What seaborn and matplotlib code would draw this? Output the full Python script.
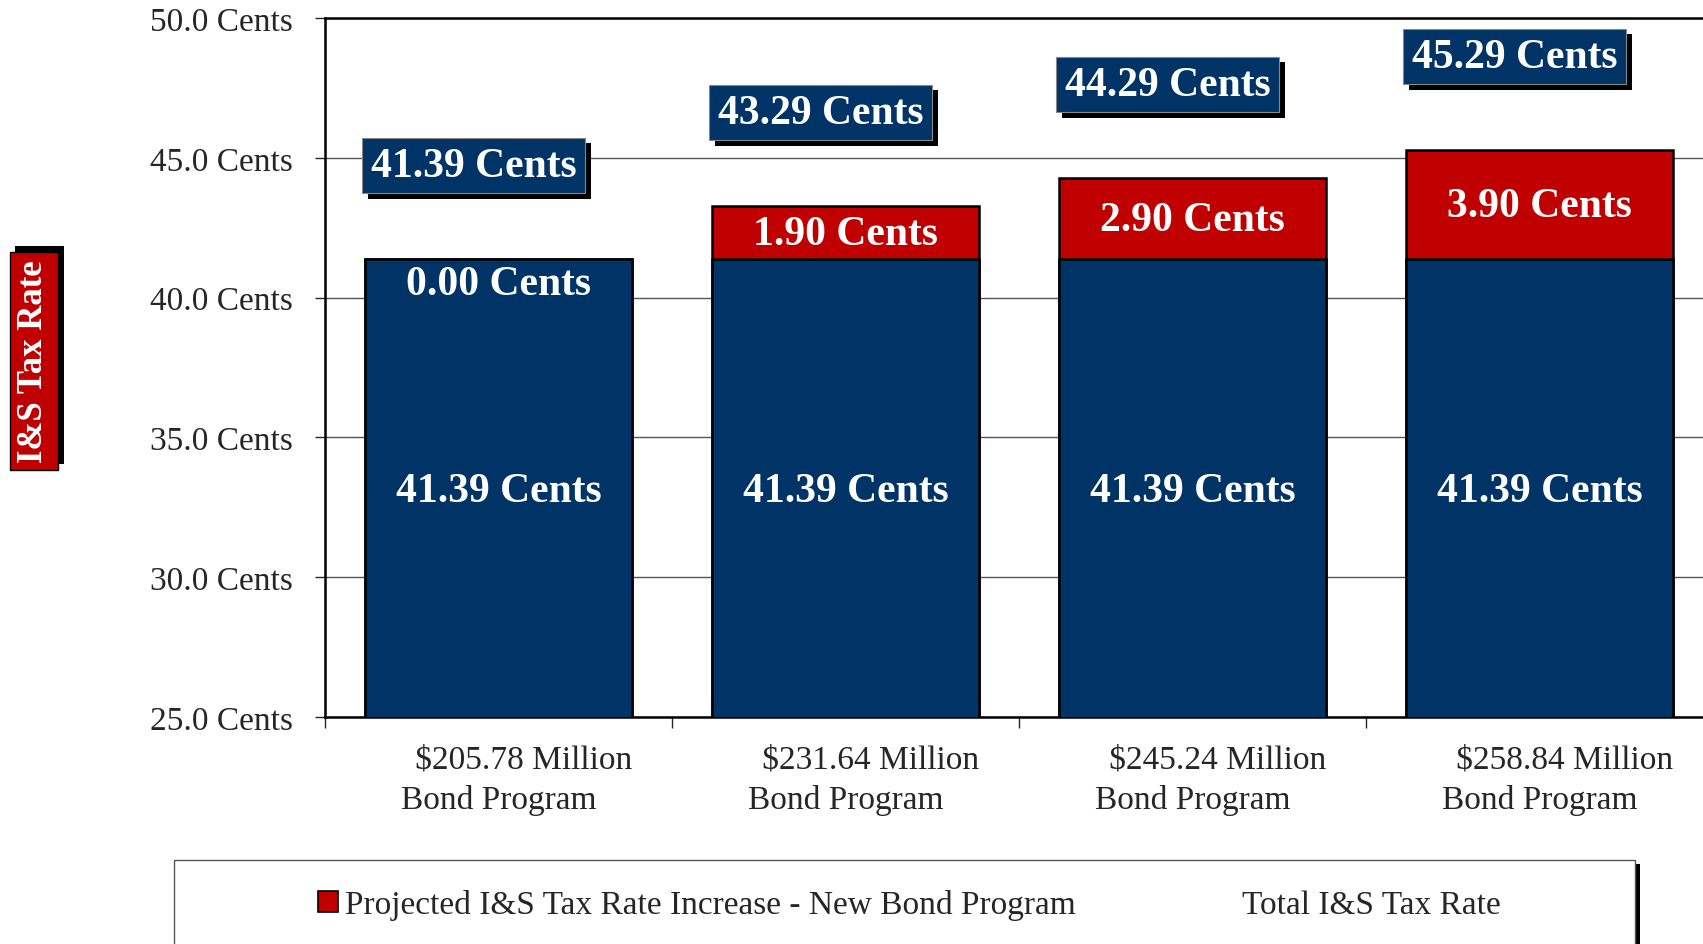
import numpy as np
import pandas as pd
import matplotlib
matplotlib.use("Agg")
import matplotlib.pyplot as plt
import matplotlib.patheffects as pe
from matplotlib.patches import Patch, Rectangle
import seaborn as sns

# ---- data ----
programs = ["$205.78 Million", "$231.64 Million", "$245.24 Million", "$258.84 Million"]
base_rate = [41.39, 41.39, 41.39, 41.39]
increase = [0.00, 1.90, 2.90, 3.90]
total_rate = [41.39, 43.29, 44.29, 45.29]
y_ticks = [25.0, 30.0, 35.0, 40.0, 45.0, 50.0]
legend_labels = ["Projected I&S Tax Rate Increase - New Bond Program", "Total I&S Tax Rate"]

BLUE = "#003366"
RED = "#C00000"

df = pd.DataFrame({
    "program": ["      " + p + "\nBond Program" for p in programs],
    "base": base_rate,
    "increase": increase,
    "total": total_rate,
})

sns.set_style("white")
plt.rcParams["font.family"] = ["Liberation Serif", "DejaVu Serif"]

fig = plt.figure(figsize=(17.03, 9.45), dpi=100)
ax = fig.add_axes([0.191, 0.240, 0.815, 0.740])

# stacked bars: red total first, blue base drawn on top
sns.barplot(data=df, x="program", y="total", color=RED, saturation=1, width=0.77,
            edgecolor="black", linewidth=1.8, ax=ax, zorder=3)
sns.barplot(data=df, x="program", y="base", color=BLUE, saturation=1, width=0.77,
            edgecolor="black", linewidth=1.8, ax=ax, zorder=4)

ax.set_ylim(25, 50)
ax.set_xlim(-0.5, len(programs) - 0.5)
ax.set_yticks(y_ticks)
ax.set_yticklabels([f"{v:.1f} Cents" for v in y_ticks])
ax.yaxis.grid(True, color="#555555", linewidth=1.0, zorder=0)
ax.set_axisbelow(True)

# category labels on minor ticks, boundary ticks as major
ax.set_xticks(np.arange(len(programs) + 1) - 0.5)
ax.set_xticklabels([])
ax.set_xticks(np.arange(len(programs)), minor=True)
ax.set_xticklabels(df["program"], minor=True, linespacing=1.4)
ax.tick_params(axis="x", which="minor", length=0, pad=19, labelsize=24)
ax.tick_params(axis="x", which="major", direction="out", length=8, width=1.0, bottom=True)
ax.tick_params(axis="y", direction="out", length=7, width=1.0, left=True, pad=16, labelsize=24)
ax.set_xlabel("")

for side in ["left", "top", "bottom", "right"]:
    ax.spines[side].set_visible(True)
    ax.spines[side].set_color("black")
ax.spines["left"].set_linewidth(1.8)
ax.spines["top"].set_linewidth(1.8)
ax.spines["bottom"].set_linewidth(1.8)

# labels inside bars
for i in range(len(programs)):
    ax.text(i, (25 + base_rate[i]) / 2 - 0.1, f"{base_rate[i]:.2f} Cents", ha="center", va="center",
            color="white", fontsize=30, fontweight="bold", zorder=6)
    y_inc = base_rate[i] + increase[i] / 2 if increase[i] > 0 else base_rate[i] - 0.85
    ax.text(i, y_inc - 0.05, f"{increase[i]:.2f} Cents", ha="center", va="center",
            color="white", fontsize=30, fontweight="bold", zorder=6)

# total labels in shadowed boxes
shadow = [pe.SimplePatchShadow(offset=(4, -4), shadow_rgbFace="black", alpha=1), pe.Normal()]
for i in range(len(programs)):
    t = ax.annotate(f"{total_rate[i]:.2f} Cents", xy=(i, total_rate[i]), xytext=(-18, 67),
                    textcoords="offset points", ha="center", va="center", color="white",
                    fontsize=30, fontweight="bold", zorder=7,
                    bbox=dict(boxstyle="square,pad=0.21", facecolor=BLUE, edgecolor="#888888",
                              linewidth=0.8))
    t.get_bbox_patch().set_path_effects(shadow)

# y label in a red box
yl = ax.set_ylabel("I&S Tax Rate", fontsize=25, fontweight="bold", color="white",
                   bbox=dict(boxstyle="square,pad=0.22", facecolor=RED, edgecolor="black",
                             linewidth=1.0))
ax.yaxis.set_label_coords(-0.198, 0.51)
yl.get_bbox_patch().set_path_effects(
    [pe.SimplePatchShadow(offset=(4, 4), shadow_rgbFace="black", alpha=1), pe.Normal()])

# legend frame (runs off the bottom of the figure)
frame = Rectangle((0.102, -0.05), 0.858, 0.139, transform=fig.transFigure, facecolor="white",
                  edgecolor="#555555", linewidth=1.0, zorder=1)
frame.set_path_effects([pe.SimplePatchShadow(offset=(4, -3), shadow_rgbFace="black", alpha=1),
                        pe.Normal()])
fig.patches.append(frame)

handles = [Patch(facecolor=RED, edgecolor="black", linewidth=1.2),
           Patch(facecolor="none", edgecolor="none")]
fig.legend(handles, legend_labels, loc="center", bbox_to_anchor=(0.534, 0.0415), ncol=2,
           frameon=False, fontsize=24, handlelength=0.6, handleheight=0.6,
           handletextpad=0.2, columnspacing=4.2)

fig.savefig("out.png", dpi=100)
